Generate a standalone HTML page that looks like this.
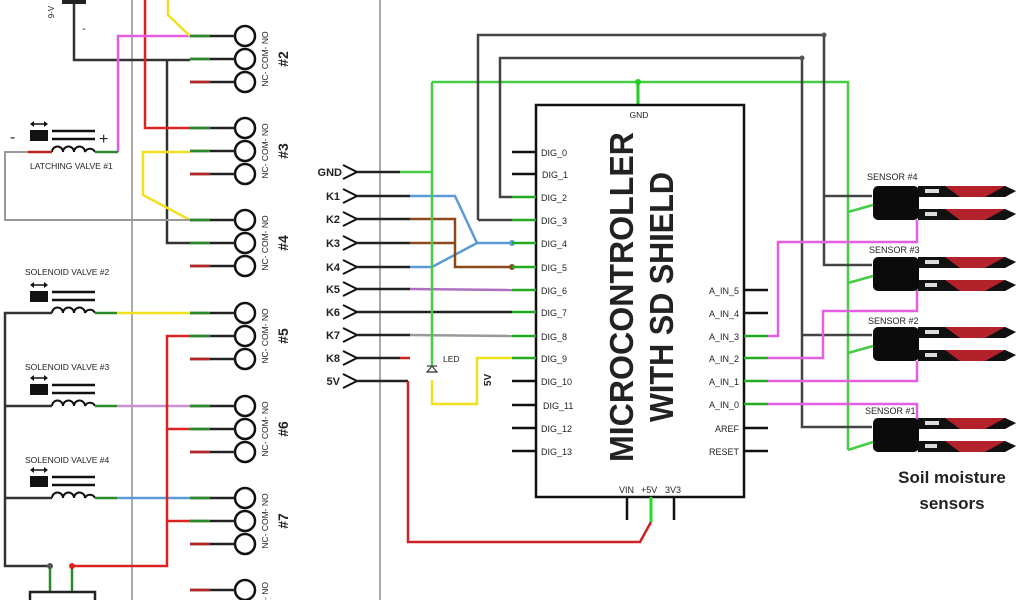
<!DOCTYPE html>
<html><head><meta charset="utf-8"><style>
html,body{margin:0;padding:0;background:#fff;width:1024px;height:600px;overflow:hidden}
svg{display:block}
text{font-family:"Liberation Sans",sans-serif;fill:#222}
</style></head><body>
<svg width="1024" height="600" viewBox="0 0 1024 600" xmlns="http://www.w3.org/2000/svg">
<defs>
<g id="relay">
 <circle cx="245" cy="0" r="10" fill="#fff" stroke="#111" stroke-width="2.5"/>
 <circle cx="245" cy="23" r="10" fill="#fff" stroke="#111" stroke-width="2.5"/>
 <circle cx="245" cy="46" r="10" fill="#fff" stroke="#111" stroke-width="2.5"/>
 <line x1="190" y1="0" x2="235" y2="0" stroke="#222" stroke-width="2.5"/>
 <line x1="190" y1="0" x2="210" y2="0" stroke="#2a8a2a" stroke-width="2.5"/>
 <line x1="190" y1="23" x2="235" y2="23" stroke="#222" stroke-width="2.5"/>
 <line x1="190" y1="23" x2="210" y2="23" stroke="#2a8a2a" stroke-width="2.5"/>
 <line x1="190" y1="46" x2="235" y2="46" stroke="#222" stroke-width="2.5"/>
 <line x1="190" y1="46" x2="210" y2="46" stroke="#b22" stroke-width="2.5"/>
 <text transform="translate(268,23) rotate(-90)" text-anchor="middle" font-size="8.5" fill="#333">NC- COM- NO</text>
</g>
<g id="valve">
 <rect x="30" y="0" width="18" height="11" fill="#111"/>
 <line x1="32" y1="-6" x2="46" y2="-6" stroke="#111" stroke-width="1.5"/>
 <path d="M30 -6 l4 -3 v6z M48 -6 l-4 -3 v6z" fill="#111"/>
 <line x1="52" y1="1" x2="95" y2="1" stroke="#111" stroke-width="2.5"/>
 <line x1="52" y1="9" x2="95" y2="9" stroke="#111" stroke-width="2.5"/>
 <path d="M52 22 a5.5 5.5 0 0 1 11 0 a5.5 5.5 0 0 1 11 0 a5.5 5.5 0 0 1 11 0 a5.5 5.5 0 0 1 10 0" fill="none" stroke="#111" stroke-width="2"/>
</g>
<g id="sensor">
 <path d="M918 0 H1005 L1016 5 L1005 11 H918z" fill="#b3222a"/>
 <path d="M918 23 H1005 L1016 28 L1005 34 H918z" fill="#b3222a"/>
 <path d="M918 0 H945 L960 11 H918z M918 23 H945 L960 34 H918z" fill="#111"/>
 <path d="M985 11 L1005 0 L1016 5 L1005 11z M985 34 L1005 23 L1016 28 L1005 34z" fill="#111"/>
 <rect x="873" y="0" width="46" height="34" rx="5" fill="#0b0b0b"/>
 <rect x="925" y="3" width="14" height="4" fill="#ddd"/>
 <rect x="925" y="26" width="12" height="4" fill="#ddd"/>
</g>
</defs>

<line x1="132" y1="0" x2="132" y2="600" stroke="#aaa" stroke-width="2"/>
<line x1="380" y1="0" x2="380" y2="600" stroke="#aaa" stroke-width="2"/>

<rect x="62" y="0" width="24" height="4" fill="#222"/>
<text transform="translate(54,12) rotate(-90)" text-anchor="middle" font-size="8">9-V</text>
<text x="82" y="32" font-size="11">-</text>
<polyline points="74,4 74,60 190,60" fill="none" stroke="#333" stroke-width="2.5"/>
<polyline points="167,60 167,243 190,243" fill="none" stroke="#333" stroke-width="2.5"/>
<polyline points="145,0 145,128 190,128" fill="none" stroke="#d22" stroke-width="2.5"/>
<polyline points="118,152 118,36 190,36" fill="none" stroke="#e65ee0" stroke-width="2.5"/>
<polyline points="168,0 168,15 190,36" fill="none" stroke="#f0e020" stroke-width="2.5"/>
<polyline points="190,152 143,152 143,195 190,220" fill="none" stroke="#f0e020" stroke-width="2.5"/>
<polyline points="28,152 5,152 5,220 190,220" fill="none" stroke="#999" stroke-width="2"/>

<use href="#valve" transform="translate(0,130)"/>
<text x="10" y="142" font-size="16">-</text>
<text x="99" y="144" font-size="16">+</text>
<line x1="28" y1="152" x2="52" y2="152" stroke="#b22" stroke-width="2.5"/>
<line x1="95" y1="152" x2="118" y2="152" stroke="#2a8a2a" stroke-width="2.5"/>
<text x="30" y="169" font-size="8.5" fill="#555">LATCHING VALVE #1</text>

<text x="25" y="275" font-size="8.5" fill="#555">SOLENOID VALVE #2</text>
<use href="#valve" transform="translate(0,291)"/>
<text x="25" y="370" font-size="8.5" fill="#555">SOLENOID VALVE #3</text>
<use href="#valve" transform="translate(0,384)"/>
<text x="25" y="463" font-size="8.5" fill="#555">SOLENOID VALVE #4</text>
<use href="#valve" transform="translate(0,476)"/>

<polyline points="52,313 5,313 5,566 50,566" fill="none" stroke="#333" stroke-width="2.5"/>
<line x1="5" y1="406" x2="52" y2="406" stroke="#333" stroke-width="2.5"/>
<line x1="5" y1="498" x2="52" y2="498" stroke="#333" stroke-width="2.5"/>
<line x1="95" y1="313" x2="117" y2="313" stroke="#2a8a2a" stroke-width="2.5"/>
<line x1="117" y1="313" x2="190" y2="313" stroke="#f0e020" stroke-width="2.5"/>
<line x1="95" y1="406" x2="117" y2="406" stroke="#2a8a2a" stroke-width="2.5"/>
<line x1="117" y1="406" x2="190" y2="406" stroke="#c890d0" stroke-width="2.5"/>
<line x1="95" y1="498" x2="117" y2="498" stroke="#2a8a2a" stroke-width="2.5"/>
<line x1="117" y1="498" x2="190" y2="498" stroke="#5b9bd5" stroke-width="2.5"/>

<polyline points="72,566 167,566 167,336 190,336" fill="none" stroke="#d22" stroke-width="2.5"/>
<polyline points="167,429 190,429" fill="none" stroke="#d22" stroke-width="2.5"/>
<polyline points="167,521 190,521" fill="none" stroke="#d22" stroke-width="2.5"/>
<line x1="50" y1="566" x2="50" y2="592" stroke="#2a8a2a" stroke-width="2.5"/>
<line x1="72" y1="566" x2="72" y2="592" stroke="#2a8a2a" stroke-width="2.5"/>
<circle cx="50" cy="566" r="3" fill="#555"/>
<circle cx="72" cy="566" r="3" fill="#d22"/>
<polyline points="30,600 30,592 95,592 95,600" fill="none" stroke="#222" stroke-width="2.5"/>

<use href="#relay" transform="translate(0,36)"/>
<use href="#relay" transform="translate(0,128)"/>
<use href="#relay" transform="translate(0,220)"/>
<use href="#relay" transform="translate(0,313)"/>
<use href="#relay" transform="translate(0,406)"/>
<use href="#relay" transform="translate(0,498)"/>
<circle cx="245" cy="590" r="10" fill="#fff" stroke="#111" stroke-width="2.5"/>
<line x1="190" y1="590" x2="235" y2="590" stroke="#222" stroke-width="2.5"/>
<line x1="190" y1="590" x2="210" y2="590" stroke="#b22" stroke-width="2.5"/>
<text transform="translate(268,600) rotate(-90)" font-size="8.5" fill="#333">- NO</text>
<g font-weight="bold" font-size="14" fill="#222">
<text transform="translate(288,59) rotate(-90)" text-anchor="middle">#2</text>
<text transform="translate(288,151) rotate(-90)" text-anchor="middle">#3</text>
<text transform="translate(288,243) rotate(-90)" text-anchor="middle">#4</text>
<text transform="translate(288,336) rotate(-90)" text-anchor="middle">#5</text>
<text transform="translate(288,429) rotate(-90)" text-anchor="middle">#6</text>
<text transform="translate(288,521) rotate(-90)" text-anchor="middle">#7</text>
<text transform="translate(288,612) rotate(-90)" text-anchor="middle">#8</text>
</g>

<g font-size="11" font-weight="bold" text-anchor="end" fill="#222">
<text x="342" y="176">GND</text><text x="340" y="200">K1</text><text x="340" y="223">K2</text>
<text x="340" y="247">K3</text><text x="340" y="271">K4</text><text x="340" y="293">K5</text>
<text x="340" y="316">K6</text><text x="340" y="339">K7</text><text x="340" y="362">K8</text>
<text x="340" y="385">5V</text>
</g>
<g fill="none" stroke="#111" stroke-width="2">
<path d="M343 165 L357 172 L343 179"/><path d="M343 189 L357 196 L343 203"/>
<path d="M343 212 L357 219 L343 226"/><path d="M343 236 L357 243 L343 250"/>
<path d="M343 260 L357 267 L343 274"/><path d="M343 282 L357 289 L343 296"/>
<path d="M343 305 L357 312 L343 319"/><path d="M343 328 L357 335 L343 342"/>
<path d="M343 351 L357 358 L343 365"/><path d="M343 374 L357 381 L343 388"/>
</g>
<g stroke-width="2.5" fill="none">
<line x1="357" y1="172" x2="400" y2="172" stroke="#222"/><line x1="400" y1="172" x2="432" y2="172" stroke="#4c4"/>
<line x1="357" y1="196" x2="410" y2="196" stroke="#222"/>
<line x1="357" y1="219" x2="410" y2="219" stroke="#222"/>
<line x1="357" y1="243" x2="410" y2="243" stroke="#222"/>
<line x1="357" y1="267" x2="410" y2="267" stroke="#222"/>
<line x1="357" y1="289" x2="410" y2="289" stroke="#222"/>
<line x1="357" y1="312" x2="512" y2="312" stroke="#222"/>
<line x1="357" y1="335" x2="410" y2="335" stroke="#222"/>
<line x1="357" y1="358" x2="400" y2="358" stroke="#222"/>
<line x1="400" y1="358" x2="410" y2="358" stroke="#c22"/>
<line x1="357" y1="381" x2="408" y2="381" stroke="#222"/>
<polyline points="410,196 455,196 477,243 512,243" stroke="#5b9bd5"/>
<polyline points="410,267 432,267 477,243" stroke="#5b9bd5"/>
<polyline points="410,219 455,219 455,267 512,267" stroke="#8b4a1c"/>
<line x1="410" y1="243" x2="455" y2="243" stroke="#8b4a1c"/>
<line x1="410" y1="289" x2="512" y2="290" stroke="#b070c0"/>
<line x1="410" y1="335" x2="512" y2="336" stroke="#999"/>
<polyline points="408,381 408,542 640,542 651,522" stroke="#c22"/>
<polyline points="432,82 432,365" stroke="#4c4"/>
<polyline points="432,380 432,404 477,404 477,358 512,358" stroke="#f0e020"/>
<polyline points="432,82 848,82 848,450" stroke="#4c4"/>
<line x1="638" y1="82" x2="638" y2="105" stroke="#2c2" stroke-width="3"/>
<polyline points="478,220 478,35 824,35 824,265 872,265" stroke="#444"/>
<line x1="824" y1="196" x2="872" y2="196" stroke="#444"/>
<polyline points="512,220 478,220" stroke="#444"/>
<polyline points="512,197 500,197 500,58 802,58 802,427 872,427" stroke="#444"/>
<line x1="802" y1="335" x2="872" y2="335" stroke="#444"/>
</g>
<circle cx="824" cy="35" r="2.5" fill="#555"/><circle cx="802" cy="58" r="2.5" fill="#555"/>
<circle cx="638" cy="82" r="3" fill="#2c2"/>
<circle cx="512" cy="243" r="3" fill="#5b9bd5"/><circle cx="512" cy="267" r="3" fill="#8b4a1c"/>
<path d="M427 372 L437 372 L432 366z" fill="none" stroke="#333" stroke-width="1.2"/>
<line x1="427" y1="366" x2="437" y2="366" stroke="#333" stroke-width="1.2"/>
<text x="443" y="362" font-size="8.5">LED</text>
<text transform="translate(491,380) rotate(-90)" text-anchor="middle" font-size="10" font-weight="bold">5V</text>

<rect x="536" y="105" width="208" height="392" fill="none" stroke="#111" stroke-width="2.5"/>
<text x="639" y="118" font-size="8.5" text-anchor="middle">GND</text>
<g stroke-width="2.5">
<g stroke="#111">
<line x1="512" y1="152" x2="536" y2="152"/><line x1="512" y1="174" x2="536" y2="174"/>
<line x1="512" y1="381" x2="536" y2="381"/><line x1="512" y1="405" x2="536" y2="405"/>
<line x1="512" y1="428" x2="536" y2="428"/><line x1="512" y1="451" x2="536" y2="451"/>
<line x1="744" y1="290" x2="768" y2="290"/><line x1="744" y1="313" x2="768" y2="313"/>
<line x1="744" y1="428" x2="768" y2="428"/><line x1="744" y1="451" x2="768" y2="451"/>
<line x1="627" y1="497" x2="627" y2="520"/><line x1="674" y1="497" x2="674" y2="520"/>
</g>
<g stroke="#2a2">
<line x1="512" y1="197" x2="536" y2="197"/><line x1="512" y1="220" x2="536" y2="220"/>
<line x1="512" y1="243" x2="536" y2="243"/><line x1="512" y1="267" x2="536" y2="267"/>
<line x1="512" y1="290" x2="536" y2="290"/><line x1="512" y1="312" x2="536" y2="312"/>
<line x1="512" y1="336" x2="536" y2="336"/><line x1="512" y1="358" x2="536" y2="358"/>
<line x1="744" y1="336" x2="768" y2="336"/><line x1="744" y1="358" x2="768" y2="358"/>
<line x1="744" y1="381" x2="768" y2="381"/><line x1="744" y1="404" x2="768" y2="404"/>
<line x1="651" y1="497" x2="651" y2="522" stroke="#2d2" stroke-width="3"/>
</g>
</g>
<g font-size="9" fill="#333">
<text x="541" y="156">DIG_0</text><text x="542" y="178">DIG_1</text><text x="541" y="201">DIG_2</text>
<text x="541" y="224">DIG_3</text><text x="541" y="247">DIG_4</text><text x="541" y="271">DIG_5</text>
<text x="541" y="294">DIG_6</text><text x="541" y="316">DIG_7</text><text x="541" y="340">DIG_8</text>
<text x="541" y="362">DIG_9</text><text x="541" y="385">DIG_10</text><text x="543" y="409">DIG_11</text>
<text x="541" y="432">DIG_12</text><text x="541" y="455">DIG_13</text>
<g text-anchor="end">
<text x="739" y="294">A_IN_5</text><text x="739" y="317">A_IN_4</text><text x="739" y="340">A_IN_3</text>
<text x="739" y="362">A_IN_2</text><text x="739" y="385">A_IN_1</text><text x="739" y="408">A_IN_0</text>
<text x="739" y="432">AREF</text><text x="739" y="455">RESET</text>
</g>
<text x="619" y="493">VIN</text><text x="641" y="493">+5V</text><text x="665" y="493">3V3</text>
</g>
<text transform="translate(633,297) rotate(-90)" text-anchor="middle" font-size="33" font-weight="bold" fill="#111" textLength="330" lengthAdjust="spacingAndGlyphs">MICROCONTROLLER</text>
<text transform="translate(673,297) rotate(-90)" text-anchor="middle" font-size="33" font-weight="bold" fill="#111" textLength="250" lengthAdjust="spacingAndGlyphs">WITH SD SHIELD</text>

<g fill="none" stroke="#e65ee0" stroke-width="2.5">
<polyline points="768,336 778,336 778,242 917,242 917,220"/>
<polyline points="768,358 823,358 823,311 917,311 917,290"/>
<polyline points="768,381 917,381 917,361"/>
<polyline points="768,404 917,404 917,420"/>
</g>
<g stroke="#4c4" stroke-width="2.5">
<line x1="848" y1="212" x2="873" y2="205"/>
<line x1="848" y1="283" x2="873" y2="276"/>
<line x1="848" y1="353" x2="873" y2="346"/>
<line x1="848" y1="450" x2="873" y2="442"/>
</g>
<use href="#sensor" transform="translate(0,186)"/>
<use href="#sensor" transform="translate(0,257)"/>
<use href="#sensor" transform="translate(0,327)"/>
<use href="#sensor" transform="translate(0,418)"/>
<g font-size="9" fill="#333">
<text x="867" y="180">SENSOR #4</text><text x="869" y="253">SENSOR #3</text>
<text x="868" y="324">SENSOR #2</text><text x="865" y="414">SENSOR #1</text>
</g>
<text x="952" y="483" text-anchor="middle" font-size="17" font-weight="bold" fill="#111">Soil moisture</text>
<text x="952" y="509" text-anchor="middle" font-size="17" font-weight="bold" fill="#111">sensors</text>
</svg>
</body></html>
